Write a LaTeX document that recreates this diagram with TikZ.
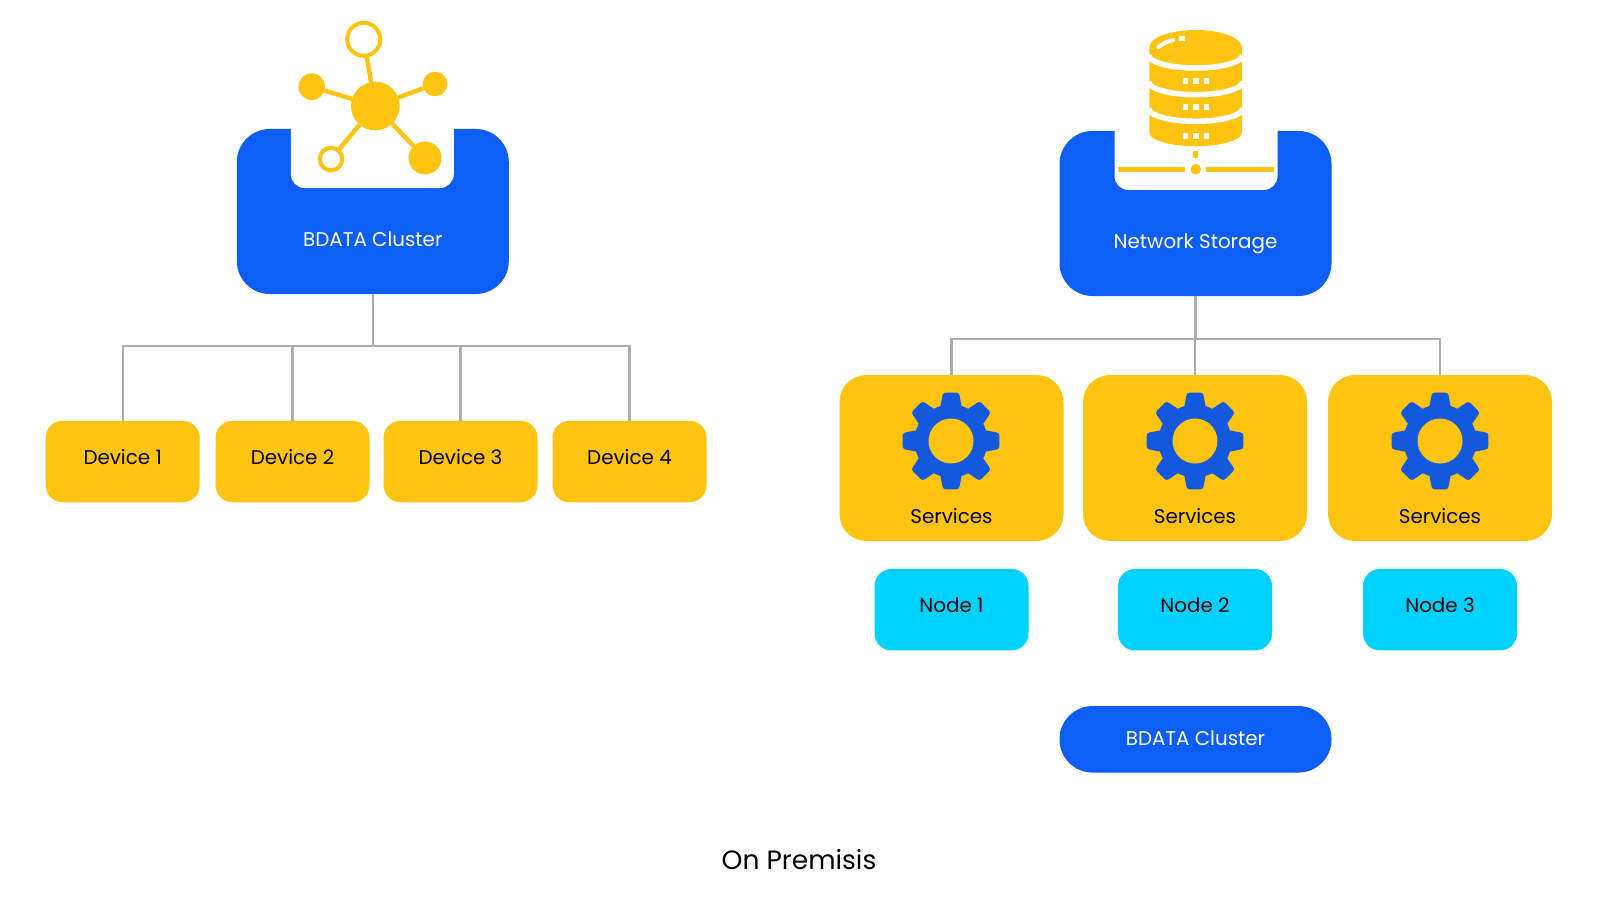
\documentclass[tikz,border=0pt]{standalone}
\usepackage{fontspec}
\setmainfont{Poppins}
\definecolor{bdblue}{HTML}{0D5EF6}
\definecolor{gearblue}{HTML}{1259DE}
\definecolor{gold}{HTML}{FFC312}
\definecolor{skyblue}{HTML}{00D2FF}
\definecolor{wire}{HTML}{ADADAD}
\tikzset{
	basebox/.style={inner sep=0pt,outer sep=0pt,align=center,font=\fontsize{5.65}{7}\selectfont},
	devicebox/.style={basebox,fill=gold,rounded corners=.17cm,minimum width=1.54cm,minimum height=.815cm,text height=.165cm,text depth=.10cm},
	nodebox/.style={basebox,fill=skyblue,rounded corners=.17cm,minimum width=1.54cm,minimum height=.815cm,text height=.165cm,text depth=.10cm},
	servicebox/.style={basebox,fill=gold,rounded corners=.27cm,minimum width=2.24cm,minimum height=1.66cm,text height=1.325cm,text depth=.02cm},
	bigbox/.style={basebox,fill=bdblue,text=white,rounded corners=.33cm,minimum width=2.72cm,minimum height=1.65cm,text height=.72cm,text depth=.02cm},
	pillbox/.style={basebox,fill=bdblue,text=white,rounded corners=.33cm,minimum width=2.72cm,minimum height=.665cm,text height=.18cm,text depth=.06cm},
	notch/.style={fill=white,rounded corners=.14cm},
	treeline/.style={draw=wire,line width=.022cm},
	spoke/.style={draw=gold,line width=.045cm},
	solidhub/.style={circle,fill=gold,inner sep=0pt,outer sep=0pt},
	openhub/.style={circle,draw=gold,fill=white,line width=.04cm,inner sep=0pt,outer sep=0pt},
	dbgap/.style={draw=white,line width=.055cm},
	gearicon/.pic={
		\fill[gearblue] (0,0) circle (.365);
		\foreach \a in {0,45,...,315}
			\fill[gearblue,rotate=\a,rounded corners=.025cm] (-.115,.3) -- (-.08,.483) -- (.08,.483) -- (.115,.3) -- cycle;
		\fill[gold] (0,0) circle (.225);
	}
}
\begin{document}
\begin{tikzpicture}
	\useasboundingbox (0,0) rectangle (16,-9.21);

	% left tree
	\node[bigbox] (cluster) at (3.728,-2.115) {BDATA Cluster};
	\node[devicebox] (device1) at (1.227,-4.615) {Device 1};
	\node[devicebox] (device2) at (2.925,-4.615) {Device 2};
	\node[devicebox] (device3) at (4.605,-4.615) {Device 3};
	\node[devicebox] (device4) at (6.295,-4.615) {Device 4};
	\coordinate (clusterjoin) at (3.728,-3.457);
	\draw[treeline] (cluster.south) -- (clusterjoin);
	\foreach \i in {1,...,4}
		\draw[treeline] (clusterjoin) -| (device\i.north);

	\fill[notch] ([shift={(-.82cm,.03cm)}]cluster.north) -- ++(0,-.62) -- ++(1.63,0) -- ++(0,.62);

	% network icon
	\node[solidhub,minimum size=.486cm] (hub) at (3.753,-1.06) {};
	\node[openhub,minimum size=.33cm] (leaftop) at (3.637,-.393) {};
	\node[solidhub,minimum size=.266cm] (leafleft) at (3.117,-.867) {};
	\node[solidhub,minimum size=.246cm] (leafright) at (4.35,-.84) {};
	\node[openhub,minimum size=.225cm] (leafopen) at (3.31,-1.59) {};
	\node[solidhub,minimum size=.33cm] (leafbig) at (4.25,-1.58) {};
	\foreach \i in {leaftop,leafleft,leafright,leafopen,leafbig}
		\draw[spoke] (hub) -- (\i);

	% right tree
	\node[bigbox] (storage) at (11.955,-2.135) {Network Storage};
	\node[servicebox] (service1) at (9.515,-4.58) {Services};
	\node[servicebox] (service2) at (11.95,-4.58) {Services};
	\node[servicebox] (service3) at (14.4,-4.58) {Services};
	\node[nodebox] (node1) at (9.515,-6.097) {Node 1};
	\node[nodebox] (node2) at (11.95,-6.097) {Node 2};
	\node[nodebox] (node3) at (14.4,-6.097) {Node 3};
	\node[pillbox] (bottom) at (11.955,-7.393) {BDATA Cluster};
	\node[inner sep=0pt,font=\fontsize{7.55}{9}\selectfont] (caption) at (7.99,-8.6) {On Premisis};
	\coordinate (storagejoin) at (11.955,-3.393);
	\draw[treeline] (storage.south) -- (storagejoin);
	\foreach \i in {1,2,3}
		\draw[treeline] (storagejoin) -| (service\i.north);
	\foreach \x in {9.51,11.95,14.4}
		\pic at (\x,-4.41) {gearicon};

	\fill[notch] ([shift={(-.81cm,.03cm)}]storage.north) -- ++(0,-.62) -- ++(1.63,0) -- ++(0,.62);

	% database icon
	\fill[gold] (11.493,-.475) -- (11.493,-1.327) arc[start angle=180,end angle=360,x radius=.463,y radius=.135] -- (12.419,-.475) arc[start angle=0,end angle=180,x radius=.463,y radius=.175] -- cycle;
	\foreach \y in {.55,.817,1.083}
		\draw[dbgap] (11.486,-\y) arc[start angle=180,end angle=360,x radius=.47,y radius=.13];
	\foreach \y in {.785,1.045,1.332}
		\foreach \x in {11.825,11.932,12.038}
			\fill[white] (\x,-\y) rectangle ++(.055,-.055);
	\draw[white,line width=.04cm,line cap=round] (11.583,-.473) to[bend left=12] (11.733,-.40);
	\fill[white] (11.793,-.36) rectangle ++(.055,-.055);
	\fill[gold] (11.932,-1.51) rectangle ++(.05,-.073);
	\node[solidhub,minimum size=.106cm] (dbdot) at (11.957,-1.693) {};
	\coordinate (dbleft) at (11.18,-1.693);
	\coordinate (dbright) at (12.737,-1.693);
	\draw[gold,line width=.05cm,shorten >=.105cm] (dbleft) -- (dbdot.center);
	\draw[gold,line width=.05cm,shorten >=.105cm] (dbright) -- (dbdot.center);
\end{tikzpicture}
\end{document}
